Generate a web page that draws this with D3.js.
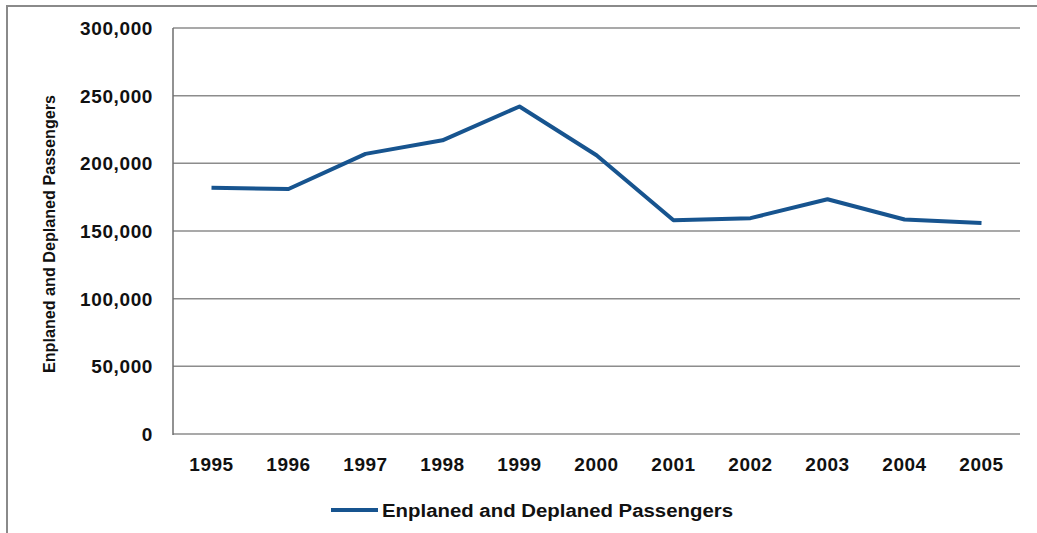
<!DOCTYPE html>
<html lang="en">
<head>
<meta charset="utf-8">
<title>Enplaned and Deplaned Passengers</title>
<script src="https://d3js.org/d3.v7.min.js"></script>
<style>
  body { margin: 0; background: #fff; }
  text { font-family: "Liberation Sans", Arial, sans-serif; font-weight: bold; fill: #111; }
</style>
</head>
<body>
<div id="chart"></div>
<script>
// data
var years = ["1995", "1996", "1997", "1998", "1999", "2000", "2001", "2002", "2003", "2004", "2005"];
var passengers = [182000, 181000, 207000, 217000, 242000, 206000, 158000, 159500, 173500, 158500, 156000];
var yTicks = [0, 50000, 100000, 150000, 200000, 250000, 300000];
var seriesName = "Enplaned and Deplaned Passengers";

var w = 1037, h = 533;
var plotLeft = 173, plotRight = 1020, plotTop = 28, plotBottom = 434;

var svg = d3.select("#chart").append("svg")
  .attr("width", w)
  .attr("height", h);

// outer frame
svg.append("path")
  .attr("d", "M7," + h + "V6H" + w)
  .attr("fill", "none")
  .attr("stroke", "#8a8a8a")
  .attr("stroke-width", 2);

var x = d3.scaleBand().domain(years).range([plotLeft, plotRight]);
var y = d3.scaleLinear().domain([0, 300000]).range([plotBottom, plotTop]);

// gridlines
svg.selectAll(".grid")
  .data(yTicks)
  .enter().append("line")
    .attr("class", "grid")
    .attr("x1", plotLeft).attr("x2", plotRight)
    .attr("y1", function(d) { return y(d); })
    .attr("y2", function(d) { return y(d); })
    .attr("stroke", "#8c8c8c")
    .attr("stroke-width", 1.5);

// y axis line
svg.append("line")
  .attr("x1", plotLeft).attr("x2", plotLeft)
  .attr("y1", plotTop).attr("y2", plotBottom + 1)
  .attr("stroke", "#6e6e6e")
  .attr("stroke-width", 1.5);

// y tick labels
svg.selectAll(".ylab")
  .data(yTicks)
  .enter().append("text")
    .attr("class", "ylab")
    .attr("x", 153)
    .attr("y", function(d) { return y(d) + 7; })
    .attr("text-anchor", "end")
    .style("font-size", "19px")
    .style("letter-spacing", "0.6px")
    .text(function(d) { return d3.format(",")(d); });

// x tick labels
svg.selectAll(".xlab")
  .data(years)
  .enter().append("text")
    .attr("class", "xlab")
    .attr("x", function(d) { return x(d) + x.bandwidth() / 2; })
    .attr("y", 471)
    .attr("text-anchor", "middle")
    .style("font-size", "19px")
    .style("letter-spacing", "0.5px")
    .text(function(d) { return d; });

// y axis title
svg.append("text")
  .attr("transform", "translate(55,234) rotate(-90)")
  .attr("text-anchor", "middle")
  .attr("textLength", 278)
  .attr("lengthAdjust", "spacingAndGlyphs")
  .style("font-size", "17px")
  .text(seriesName);

// the line
var line = d3.line()
  .x(function(d, i) { return x(years[i]) + x.bandwidth() / 2; })
  .y(function(d) { return y(d); });

svg.append("path")
  .datum(passengers)
  .attr("d", line)
  .attr("fill", "none")
  .attr("stroke", "#17548f")
  .attr("stroke-width", 4)
  .attr("stroke-linejoin", "round");

// legend
svg.append("line")
  .attr("x1", 331).attr("x2", 378)
  .attr("y1", 510).attr("y2", 510)
  .attr("stroke", "#17548f")
  .attr("stroke-width", 4);

svg.append("text")
  .attr("x", 382)
  .attr("y", 517)
  .attr("textLength", 351)
  .attr("lengthAdjust", "spacingAndGlyphs")
  .style("font-size", "18px")
  .text(seriesName);
</script>
</body>
</html>
